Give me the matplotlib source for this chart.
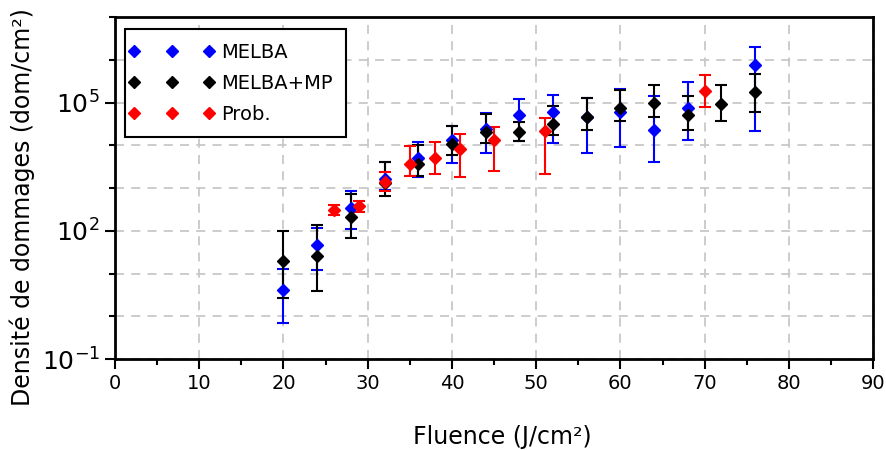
import matplotlib.pyplot as plt
from matplotlib.lines import Line2D
from matplotlib.legend_handler import HandlerLine2D
from matplotlib.ticker import LogLocator, NullFormatter, MultipleLocator

# MELBA
x_melba = [20, 24, 28, 32, 36, 40, 44, 48, 52, 56, 60, 64, 68, 76]
y_melba = [4.1, 46, 347, 1650, 5100, 13000, 24300, 51600, 61700, 45000, 61700, 23400, 73600, 759000]
lo_melba = [0.7, 12.4, 112, 900, 1800, 3900, 6600, 12300, 11500, 6600, 9300, 4100, 13500, 22200]
hi_melba = [12.6, 119, 850, 4050, 11700, 29000, 56000, 119000, 148000, 126000, 204000, 145000, 302000, 2040000]

# MELBA+MP
x_mp = [20, 24, 28, 32, 36, 40, 44, 48, 52, 56, 60, 64, 68, 72, 76]
y_mp = [19.4, 25.4, 206, 1330, 3700, 10900, 20300, 20300, 30700, 45400, 73600, 97700, 50100, 91200, 174000]
lo_mp = [2.7, 3.8, 68, 640, 1900, 5800, 11200, 12300, 17600, 23400, 36100, 47100, 22900, 36700, 61700]
hi_mp = [100, 140, 740, 4050, 10200, 29000, 54500, 35000, 83800, 126000, 200000, 263000, 145000, 251000, 479000]

# Prob.
x_prob = [26, 29, 32, 35, 38, 41, 45, 51, 70]
y_prob = [301, 373, 1380, 3700, 5100, 8300, 13000, 22200, 190000]
lo_prob = [230, 275, 850, 1875, 2140, 1800, 2500, 2150, 80700]
hi_prob = [394, 497, 2360, 9550, 11700, 18600, 26600, 44000, 447000]

series = [
    ('MELBA', 'blue', x_melba, y_melba, lo_melba, hi_melba),
    ('MELBA+MP', 'black', x_mp, y_mp, lo_mp, hi_mp),
    ('Prob.', 'red', x_prob, y_prob, lo_prob, hi_prob),
]

fig = plt.figure(figsize=(8.87, 4.5), dpi=100)
ax = fig.add_axes([0.1297, 0.2022, 0.8546, 0.7598])

handles = []
for nom, coul, xs, ys, los, his in series:
    err = [[y - l for y, l in zip(ys, los)], [h - y for y, h in zip(ys, his)]]
    ax.errorbar(xs, ys, yerr=err, fmt='D', color=coul, ms=6.5, capsize=4,
                elinewidth=1.5, capthick=1.5, zorder=3)
    handles.append(Line2D([], [], ls='none', marker='D', color=coul, ms=6.5, label=nom))

ax.set_yscale('log')
ax.set_ylim(1e-1, 1e7)
ax.set_xlim(0, 90)
ax.set_yticks([1e-1, 1e2, 1e5])
ax.yaxis.set_minor_locator(LogLocator(base=10, subs=[1.0], numticks=20))
ax.yaxis.set_minor_formatter(NullFormatter())
ax.xaxis.set_major_locator(MultipleLocator(10))
ax.xaxis.set_minor_locator(MultipleLocator(5))

ax.grid(True, which='both', axis='y', ls=(0, (5, 4)), color='#c8c8c8', lw=1.3)
ax.grid(True, which='major', axis='x', ls=(0, (5, 4)), color='#c8c8c8', lw=1.3)
ax.set_axisbelow(True)

for s in ax.spines.values():
    s.set_linewidth(2)
ax.tick_params(which='major', length=7, width=1.5, labelsize=14)
ax.tick_params(axis='y', which='major', labelsize=18, pad=4)
ax.tick_params(which='minor', length=4, width=1.5)

ax.set_xlabel('Fluence (J/cm²)', fontsize=17, va='center')
ax.xaxis.set_label_coords(0.511, -0.228)
ax.set_ylabel('Densité de dommages (dom/cm²)', fontsize=17, va='center')
ax.yaxis.set_label_coords(-0.123, 0.444)

leg = ax.legend(handles=handles, loc='upper left', bbox_to_anchor=(0.013, 0.965),
                handler_map={Line2D: HandlerLine2D(marker_pad=-0.25, numpoints=3)},
                handlelength=3.4, fontsize=14, fancybox=False,
                edgecolor='black', framealpha=1, borderaxespad=0, labelspacing=0.62,
                handletextpad=0.85, borderpad=0.7)
leg.get_frame().set_linewidth(1.5)

fig.savefig('out.png', dpi=100)
